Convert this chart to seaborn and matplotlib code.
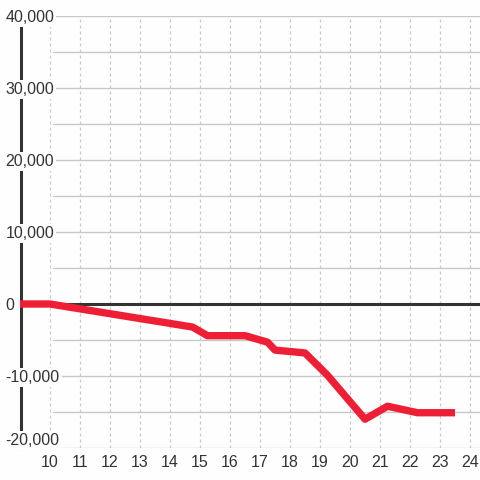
import matplotlib
matplotlib.use("Agg")
import matplotlib.pyplot as plt
import seaborn as sns
import pandas as pd

# data
hours = [9, 10, 14.75, 15.25, 16.5, 17.25, 17.5, 18.5, 19.25, 20.5, 21.25, 22.25, 23.5]
values = [0, 0, -3200, -4400, -4400, -5300, -6400, -6800, -9900, -16000, -14200, -15100, -15100]
x_ticks = list(range(10, 25))
y_ticks = [-20000, -10000, 0, 10000, 20000, 30000, 40000]
grid_y = list(range(-20000, 40001, 5000))

BG = "#fdfefd"
RED = "#ee1f35"
DARK = "#333333"
GRID = "#c8c8c8"

sns.set_style("white")
plt.rcParams["font.family"] = ["Liberation Sans", "DejaVu Sans"]

df = pd.DataFrame({"hour": hours, "value": values})

fig = plt.figure(figsize=(4.8, 4.8), dpi=100, facecolor=BG)
ax = fig.add_axes([20 / 480, 32 / 480, 460 / 480, 432 / 480], facecolor=BG)

# horizontal grid starts right of the y labels
for gy in grid_y:
    ax.axhline(gy, xmin=33 / 460, color=GRID, lw=1, zorder=1)
# vertical dotted grid
for gx in x_ticks:
    ax.axvline(gx, color=GRID, lw=0.9, ls=(0, (2.4, 2.4)), zorder=1)
ax.axhline(0, color=DARK, lw=2.2, zorder=1.5)

sns.lineplot(data=df, x="hour", y="value", ax=ax, color=RED, lw=5.3,
             solid_capstyle="butt", solid_joinstyle="round", zorder=2)

ax.set_xlim(9, 9 + 460 / 30)
ax.set_ylim(-20000, 40000)
ax.set_xticks(x_ticks)
ax.set_yticks(y_ticks)
ax.set_yticklabels([f"{v:,}" for v in y_ticks])
ax.set_xlabel("")
ax.set_ylabel("")
ax.set_axisbelow(False)

for s in ["top", "right", "bottom"]:
    ax.spines[s].set_visible(False)
ax.spines["left"].set_color(DARK)
ax.spines["left"].set_linewidth(2.2)
ax.spines["left"].set_position(("data", 9.02))
ax.spines["left"].set_zorder(1.6)

ax.tick_params(axis="y", length=0, pad=11, labelsize=11.5, labelcolor=DARK)
ax.tick_params(axis="x", length=0, pad=5, labelsize=11.5, labelcolor=DARK)
for lbl in ax.get_yticklabels():
    lbl.set_ha("left")
    lbl.set_bbox(dict(facecolor=BG, edgecolor="none", pad=1.5))
ax.get_yticklabels()[0].set_va("bottom")

fig.savefig("out.png", dpi=100, facecolor=BG)
